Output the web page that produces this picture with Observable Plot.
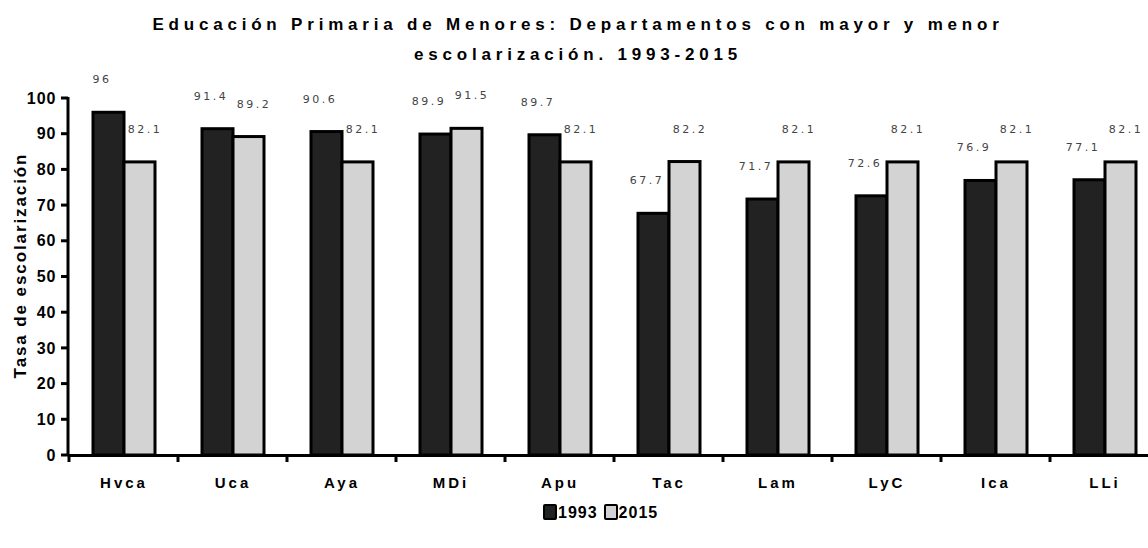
<!DOCTYPE html>
<html>
<head>
<meta charset="utf-8">
<script src="https://cdn.jsdelivr.net/npm/d3@7"></script>
<script src="https://cdn.jsdelivr.net/npm/@observablehq/plot@0.6"></script>
<style>
  html, body { margin: 0; padding: 0; background: #fff; overflow: hidden; }
  body { width: 1148px; height: 548px; font-family: Arial, "Liberation Sans", sans-serif; }
  #title { width: 1148px; height: 70px; box-sizing: border-box; padding-top: 10px; padding-left: 8px; text-align: center;
           font-weight: bold; font-size: 17px; line-height: 30px; letter-spacing: 4.8px; color: #000; }
  #chart { width: 1148px; height: 430px; overflow: hidden; }
  #legend { height: 26px; line-height: 26px; font-weight: bold; font-size: 16px; letter-spacing: 1px;
            padding-left: 543px; white-space: nowrap; }
  #legend .sw { display: inline-block; width: 10px; height: 12px; border: 2px solid #000; border-radius: 2px;
                vertical-align: -2px; margin-right: 1px; }
  #chart svg [aria-description="dept"] text { letter-spacing: 3px; }
  #chart svg [aria-description="vals"] text { letter-spacing: 2.5px; }
</style>
</head>
<body>
<div id="title">Educación Primaria de Menores: Departamentos con mayor y menor<br>escolarización. 1993-2015</div>
<div id="chart"></div>
<div id="legend"></div>
<script>
const deptos = ["Hvca", "Uca", "Aya", "MDi", "Apu", "Tac", "Lam", "LyC", "Ica", "LLi"];
const years = ["1993", "2015"];
const v1993 = [96, 91.4, 90.6, 89.9, 89.7, 67.7, 71.7, 72.6, 76.9, 77.1];
const v2015 = [82.1, 89.2, 82.1, 91.5, 82.1, 82.2, 82.1, 82.1, 82.1, 82.1];
const yTicks = [0, 10, 20, 30, 40, 50, 60, 70, 80, 90, 100];
const colors = ["#222222", "#d3d3d3"];
const yLabel = "Tasa de escolarización";

const data = [];
deptos.forEach((d, i) => {
  data.push({dept: d, year: years[0], value: v1993[i]});
  data.push({dept: d, year: years[1], value: v2015[i]});
});

const chart = Plot.plot({
  width: 1160,
  height: 430,
  marginLeft: 68,
  marginRight: 1,
  marginTop: 28,
  marginBottom: 45,
  style: {fontFamily: 'Arial, "Liberation Sans", sans-serif', fontSize: "16px", fontWeight: "bold",
          maxWidth: "none", overflow: "visible", background: "white", color: "#000", letterSpacing: "1px"},
  fx: {domain: deptos, padding: 0, axis: null},
  x: {domain: years, paddingInner: 0, paddingOuter: 0.72, axis: null},
  y: {domain: [0, 100], ticks: yTicks, tickSize: 0, tickPadding: 13, label: null},
  color: {domain: years, range: colors},
  marks: [
    Plot.barY(data, {fx: "dept", x: "year", y: "value", fill: "year", stroke: "#000", strokeWidth: 3}),
    Plot.ruleY([0], {stroke: "#000", strokeWidth: 3}),
    Plot.text(data.filter(d => d.year === years[0]), {fx: "dept", x: "year", y: "value", text: d => String(d.value),
      dy: -33, dx: -7, fontSize: 11, fontWeight: "normal", fontFamily: '"DejaVu Sans", sans-serif', fill: "#444", ariaDescription: "vals"}),
    Plot.text(data.filter(d => d.year === years[1]), {fx: "dept", x: "year", y: "value", text: d => String(d.value),
      dy: -33, dx: 5, fontSize: 11, fontWeight: "normal", fontFamily: '"DejaVu Sans", sans-serif', fill: "#444", ariaDescription: "vals"}),
    Plot.text(deptos, {fx: d => d, text: d => d, frameAnchor: "bottom", lineAnchor: "middle", dy: 28,
      fontSize: 15, fontWeight: "bold", ariaDescription: "dept"})
  ]
});
document.getElementById("chart").appendChild(chart);

// axis line, ticks and y label drawn from the plot's own scales
const svg = d3.select(chart);
const fxs = chart.scale("fx");
const ys = chart.scale("y");
const x0 = fxs.range[0];
const y0 = ys.apply(0), y100 = ys.apply(100);
svg.append("line").attr("x1", x0).attr("x2", x0).attr("y1", y100 - 1).attr("y2", y0)
  .attr("stroke", "#000").attr("stroke-width", 3);
svg.append("g").selectAll("line").data(yTicks).join("line")
  .attr("x1", x0 - 7).attr("x2", x0).attr("y1", d => ys.apply(d)).attr("y2", d => ys.apply(d))
  .attr("stroke", "#000").attr("stroke-width", 3);
const bounds = deptos.map(d => fxs.apply(d)).concat([fxs.apply(deptos[deptos.length - 1]) + fxs.bandwidth]);
svg.append("g").selectAll("line").data(bounds).join("line")
  .attr("x1", d => d).attr("x2", d => d).attr("y1", y0).attr("y2", y0 + 7)
  .attr("stroke", "#000").attr("stroke-width", 3);
svg.append("text").attr("transform", `translate(20,${(y0 + y100) / 2 - 11}) rotate(-90)`)
  .attr("text-anchor", "middle").attr("dominant-baseline", "central")
  .style("font-size", "17px").style("font-weight", "bold").style("letter-spacing", "1.9px")
  .text(yLabel);

// legend
const legend = d3.select("#legend");
years.forEach((y, i) => {
  legend.append("span").attr("class", "sw").style("background", colors[i]);
  legend.append("span").text(y).style("margin-right", i === 0 ? "6px" : "0");
});
</script>
</body>
</html>
